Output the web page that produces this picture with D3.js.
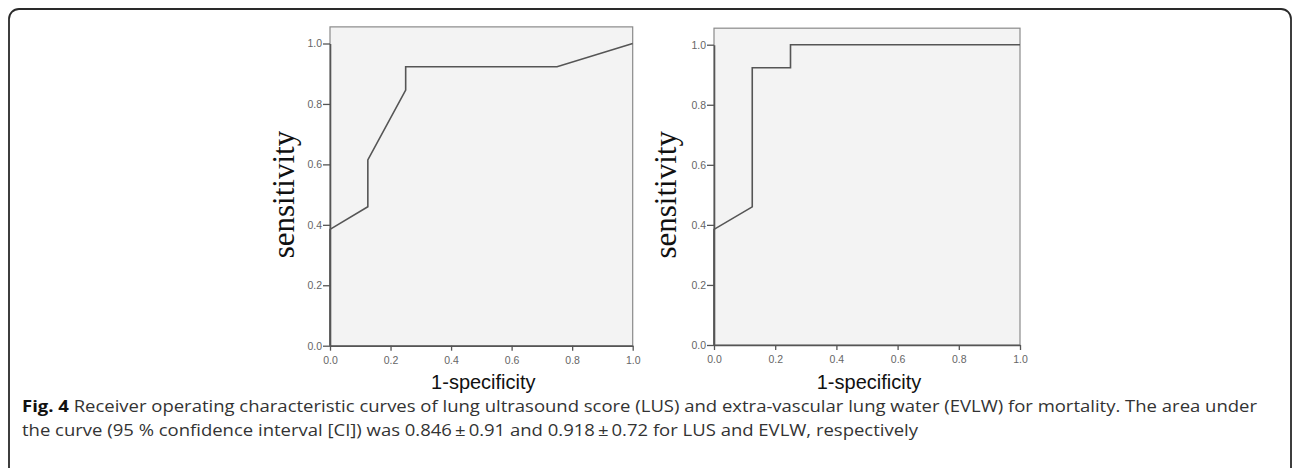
<!DOCTYPE html>
<html><head><meta charset="utf-8">
<script src="https://cdn.jsdelivr.net/npm/d3@7"></script>
<style>html,body{margin:0;padding:0;background:#fff;}svg{display:block;}</style>
</head><body>
<script>
const ticks = [0, 0.2, 0.4, 0.6, 0.8, 1.0];
const lusX = [0, 0, 0.125, 0.125, 0.25, 0.25, 0.75, 1];
const lusY = [0, 0.385, 0.46, 0.615, 0.846, 0.923, 0.923, 1];
const evlwX = [0, 0, 0.125, 0.125, 0.25, 0.25, 1];
const evlwY = [0, 0.385, 0.46, 0.923, 0.923, 1, 1];
const xTitle = "1-specificity";
const yTitle = "sensitivity";
const captionBold = "Fig. 4";
const captionLine1 = " Receiver operating characteristic curves of lung ultrasound score (LUS) and extra-vascular lung water (EVLW) for mortality. The area under";
const captionLine2 = "the curve (95 % confidence interval [CI]) was 0.846\u2009\u00b1\u20090.91 and 0.918\u2009\u00b1\u20090.72 for LUS and EVLW, respectively";

const W = 1292, H = 468;
const svg = d3.select("body").append("svg").attr("width", W).attr("height", H);

// outer border
svg.append("rect").attr("x", 9).attr("y", 9).attr("width", 1282).attr("height", 500)
  .attr("rx", 10).attr("fill", "none").attr("stroke", "#2a2a2a").attr("stroke-width", 1.8);

function panel(px, py, xsData, ysData, labelX) {
  const x = d3.scaleLinear().domain([0, 1]).range(px);
  const y = d3.scaleLinear().domain([0, 1]).range(py);
  const g = svg.append("g");
  const top = y(1.055);
  g.append("rect").attr("x", x(0)).attr("y", top).attr("width", x(1) - x(0)).attr("height", y(0) - top)
    .attr("fill", "#f3f3f3").attr("stroke", "#8a8a8a").attr("stroke-width", 1.2);
  const xa = g.append("g").attr("transform", `translate(0,${y(0)})`)
    .call(d3.axisBottom(x).tickValues(ticks).tickFormat(d3.format(".1f")).tickSize(5).tickSizeOuter(0));
  const ya = g.append("g").attr("transform", `translate(${x(0)},0)`)
    .call(d3.axisLeft(y).tickValues(ticks).tickFormat(d3.format(".1f")).tickSize(7).tickSizeOuter(0));
  [xa, ya].forEach(a => {
    a.select(".domain").attr("stroke", "#555").attr("stroke-width", 1.6);
    a.selectAll(".tick line").attr("stroke", "#555").attr("stroke-width", 1.3);
    a.selectAll("text").attr("fill", "#666").style("font-family", "Arial, 'Liberation Sans', sans-serif").style("font-size", "10.5px");
  });
  xa.selectAll("text").attr("y", 11);
  ya.selectAll("text").attr("x", -8);
  const pts = xsData.map((d, i) => [d, ysData[i]]);
  g.append("path").datum(pts)
    .attr("d", d3.line().x(d => x(d[0])).y(d => y(d[1])))
    .attr("fill", "none").attr("stroke", "#555").attr("stroke-width", 1.6).attr("stroke-linejoin", "miter");
  g.append("text").attr("x", (x(0) + x(1)) / 2 + 2).attr("y", 389).attr("text-anchor", "middle")
    .style("font-family", "Arial, 'Liberation Sans', sans-serif").style("font-size", "20px").attr("fill", "#111")
    .text(xTitle);
  g.append("text").attr("transform", `translate(${labelX},${(y(0) + y(1)) / 2}) rotate(-90)`).attr("text-anchor", "middle")
    .style("font-family", "'Liberation Serif', 'Times New Roman', serif").style("font-size", "31px").attr("fill", "#111")
    .text(yTitle);
}

panel([330, 632.7], [345.7, 43.5], lusX, lusY, 294);
panel([714, 1020], [345, 44.7], evlwX, evlwY, 676);

const cap = svg.append("g").style("font-family", "'Open Sans', sans-serif").style("font-size", "16px");
const t1 = cap.append("text").attr("x", 22).attr("y", 412).attr("fill", "#333");
t1.append("tspan").style("font-weight", "bold").attr("fill", "#111").text(captionBold);
t1.append("tspan").text(captionLine1);
const t2 = cap.append("text").attr("x", 22).attr("y", 436).attr("fill", "#333").text(captionLine2);
const n1 = t1.node().getComputedTextLength();
const n2 = t2.node().getComputedTextLength();
const k = 1235 / n1;
t1.attr("textLength", 1235).attr("lengthAdjust", "spacingAndGlyphs");
t2.attr("textLength", n2 * k).attr("lengthAdjust", "spacingAndGlyphs");
</script>
</body></html>
